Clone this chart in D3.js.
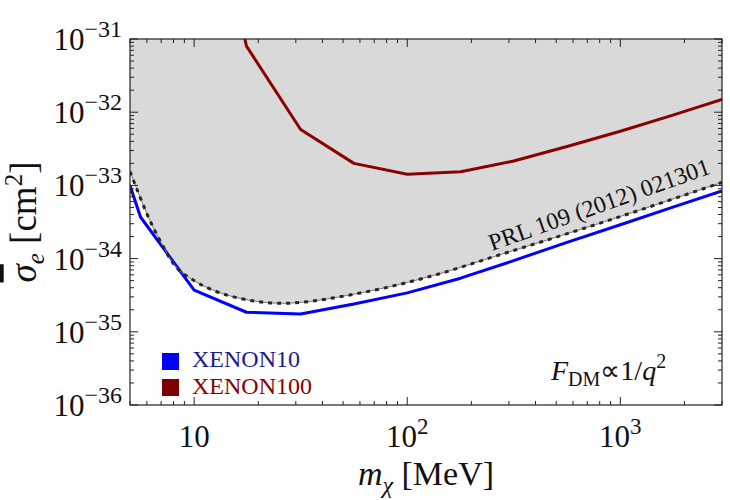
<!DOCTYPE html>
<html>
<head>
<meta charset="utf-8">
<script src="https://cdn.jsdelivr.net/npm/d3@7"></script>
<style>
  html, body { margin: 0; padding: 0; background: #fff; }
  svg { display: block; font-family: 'Liberation Serif', 'Times New Roman', serif; }
</style>
</head>
<body>
<svg id="chart" width="730" height="500"></svg>
<script>
// XENON10 bound (blue)
const massX10 = [5, 5.6, 10, 17.6, 31.6, 56.2, 100, 178, 316, 562, 1000, 1780, 3000];
const sigmaX10 = [1.0e-33, 3.7e-34, 3.7e-35, 1.85e-35, 1.75e-35, 2.4e-35, 3.4e-35, 5.4e-35, 9.4e-35, 1.67e-34, 2.9e-34, 5.1e-34, 8.4e-34];

// XENON100 bound (dark red)
const massX100 = [17.3, 17.6, 31.6, 56.2, 100, 178, 316, 562, 1000, 1780, 3000];
const sigmaX100 = [1.0e-31, 8e-32, 5.8e-33, 2.0e-33, 1.42e-33, 1.54e-33, 2.15e-33, 3.4e-33, 5.5e-33, 9.2e-33, 1.5e-32];

// PRL 109 (2012) 021301, dashed, edge of the shaded region
const massPRL = [5, 5.5, 6, 7, 8, 10, 12, 17, 26, 35, 48, 82, 136, 270, 790, 3000];
const sigmaPRL = [1.55e-33, 7.6e-34, 4.1e-34, 1.65e-34, 8.5e-35, 5.0e-35, 3.8e-35, 2.8e-35, 2.45e-35, 2.6e-35, 3.0e-35, 4.1e-35, 6.0e-35, 1.12e-34, 3.0e-34, 1.1e-33];

const xMajor = [10, 100, 1000];
const xExp = ['', '2', '3'];
const yMajor = [1e-31, 1e-32, 1e-33, 1e-34, 1e-35, 1e-36];
const yExp = ['−31', '−32', '−33', '−34', '−35', '−36'];
const legendNames = ['XENON10', 'XENON100'];

const X10_COLOR = '#0000ff';
const X100_COLOR = '#8b0000';
const SHADE = '#d9d9d9';
const FRAME = '#222';

const plotL = 130, plotR = 722, plotT = 39, plotB = 405;

const svg = d3.select('#chart');
const x = d3.scaleLog().domain([5, 3000]).range([plotL, plotR]);
const y = d3.scaleLog().domain([1e-36, 1e-31]).range([plotB, plotT]);

svg.append('defs').append('clipPath').attr('id', 'plotClip')
  .append('rect').attr('x', plotL).attr('y', plotT).attr('width', plotR - plotL).attr('height', plotB - plotT);

const plot = svg.append('g').attr('clip-path', 'url(#plotClip)');

const prl = massPRL.map((m, i) => [m, sigmaPRL[i]]);
const x10 = massX10.map((m, i) => [m, sigmaX10[i]]);
const x100 = massX100.map((m, i) => [m, sigmaX100[i]]);

// shaded excluded region above the PRL curve
const area = d3.area()
  .x((d) => x(d[0]))
  .y0(plotT)
  .y1((d) => y(d[1]))
  .curve(d3.curveMonotoneX);
plot.append('path').attr('d', area(prl)).attr('fill', SHADE);

const line = d3.line().x((d) => x(d[0])).y((d) => y(d[1]));
const smooth = d3.line().x((d) => x(d[0])).y((d) => y(d[1])).curve(d3.curveMonotoneX);

plot.append('path').attr('d', line(x100))
  .attr('fill', 'none').attr('stroke', X100_COLOR).attr('stroke-width', 3).attr('stroke-linejoin', 'round');
plot.append('path').attr('d', line(x10))
  .attr('fill', 'none').attr('stroke', X10_COLOR).attr('stroke-width', 3).attr('stroke-linejoin', 'round');
plot.append('path').attr('d', smooth(prl))
  .attr('fill', 'none').attr('stroke', '#7a7a7a').attr('stroke-width', 1);
plot.append('path').attr('d', smooth(prl))
  .attr('fill', 'none').attr('stroke', '#262626').attr('stroke-width', 3).attr('stroke-dasharray', '4,5');

// frame and inward ticks on all four sides
const frame = svg.append('g');
frame.append('rect').attr('x', plotL).attr('y', plotT).attr('width', plotR - plotL).attr('height', plotB - plotT)
  .attr('fill', 'none').attr('stroke', FRAME).attr('stroke-width', 1.2);

const xMinor = [];
[1, 10, 100, 1000].forEach((dec) => d3.range(2, 10).forEach((k) => {
  const v = dec * k;
  if (v >= 5 && v <= 3000) xMinor.push(v);
}));
const yMinor = [];
[1e-36, 1e-35, 1e-34, 1e-33, 1e-32].forEach((dec) => d3.range(2, 10).forEach((k) => yMinor.push(dec * k)));

function xTicks(vals, len) {
  vals.forEach((v) => {
    const px = x(v);
    frame.append('line').attr('x1', px).attr('x2', px).attr('y1', plotB).attr('y2', plotB - len).attr('stroke', FRAME);
    frame.append('line').attr('x1', px).attr('x2', px).attr('y1', plotT).attr('y2', plotT + len).attr('stroke', FRAME);
  });
}
function yTicks(vals, len) {
  vals.forEach((v) => {
    const py = y(v);
    frame.append('line').attr('y1', py).attr('y2', py).attr('x1', plotL).attr('x2', plotL + len).attr('stroke', FRAME);
    frame.append('line').attr('y1', py).attr('y2', py).attr('x1', plotR).attr('x2', plotR - len).attr('stroke', FRAME);
  });
}
xTicks(xMinor, 4);
xTicks(xMajor, 8);
yTicks(yMinor, 4);
yTicks(yMajor, 8);

// tick labels
yMajor.forEach((v, i) => {
  const t = svg.append('text').attr('x', plotL - 8).attr('y', y(v) + 11)
    .attr('text-anchor', 'end').attr('font-size', 31).attr('fill', '#111');
  t.append('tspan').text('10');
  t.append('tspan').attr('dy', -13).attr('font-size', 24).text(yExp[i]);
});
xMajor.forEach((v, i) => {
  const t = svg.append('text').attr('x', x(v)).attr('y', 447)
    .attr('text-anchor', 'middle').attr('font-size', 31).attr('fill', '#111');
  t.append('tspan').text('10');
  if (xExp[i]) t.append('tspan').attr('dy', -13).attr('font-size', 23).text(xExp[i]);
});

// axis titles
const xt = svg.append('text').attr('x', (plotL + plotR) / 2).attr('y', 485)
  .attr('text-anchor', 'middle').attr('font-size', 34).attr('fill', '#111');
xt.append('tspan').attr('font-style', 'italic').text('m');
xt.append('tspan').attr('font-style', 'italic').attr('font-size', 24).attr('dy', 8).text('χ');
xt.append('tspan').attr('dy', -8).text(' [MeV]');

const yt = svg.append('text').attr('transform', 'translate(36,222) rotate(-90)')
  .attr('text-anchor', 'middle').attr('font-size', 37).attr('fill', '#111');
yt.append('tspan').attr('font-style', 'italic').style('text-decoration', 'overline').text('σ');
yt.append('tspan').attr('font-style', 'italic').attr('font-size', 25).attr('dy', 8).text('e');
yt.append('tspan').attr('dy', -8).text(' [cm');
yt.append('tspan').attr('dy', -14).attr('font-size', 25).text('2');
yt.append('tspan').attr('dy', 14).text(']');

// PRL label along the dashed curve
svg.append('text').attr('transform', 'translate(492,251) rotate(-19.5)')
  .attr('font-size', 24).attr('fill', '#111').text('PRL 109 (2012) 021301');

// form factor label
const ff = svg.append('text').attr('x', 551).attr('y', 380).attr('font-size', 28).attr('fill', '#111');
ff.append('tspan').attr('font-style', 'italic').text('F');
ff.append('tspan').attr('font-size', 20).attr('dy', 6).text('DM');
ff.append('tspan').attr('dy', -6).text('∝1/');
ff.append('tspan').attr('font-style', 'italic').text('q');
ff.append('tspan').attr('dy', -12).attr('font-size', 20).text('2');

// legend
const legendSwatch = [X10_COLOR, '#7f0000'];
const legendText = ['#1c1c8e', X100_COLOR];
legendNames.forEach((name, i) => {
  svg.append('rect').attr('x', 162).attr('y', 353 + i * 26).attr('width', 17).attr('height', 17).attr('fill', legendSwatch[i]);
  svg.append('text').attr('x', 192).attr('y', 367 + i * 27).attr('font-size', 24)
    .attr('fill', legendText[i]).text(name);
});
</script>
</body>
</html>
